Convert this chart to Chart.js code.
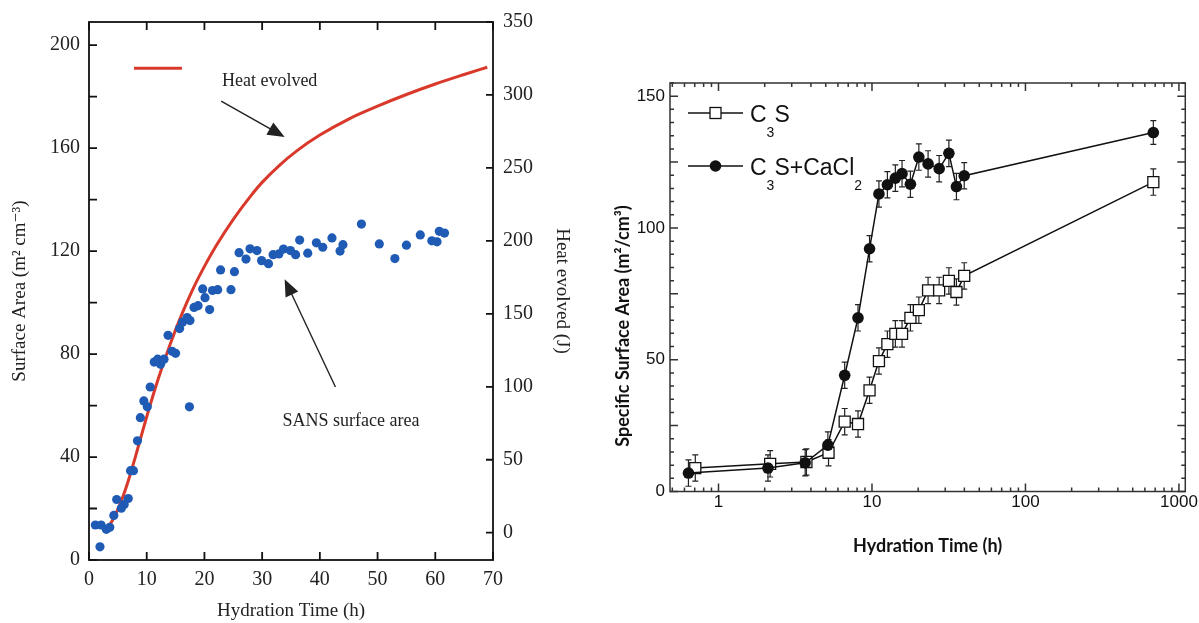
<!DOCTYPE html>
<html>
<head>
<meta charset="utf-8">
<script src="https://cdn.jsdelivr.net/npm/chart.js@4.4.1/dist/chart.umd.min.js"></script>
<style>
  body { margin: 0; background: #fff; }
  #left { position: absolute; left: 0; top: 0; }
  #right { position: absolute; left: 600px; top: 0; }
</style>
</head>
<body>
<canvas id="left" width="600" height="623"></canvas>
<canvas id="right" width="599" height="623"></canvas>
<script>
// ---- left panel: SANS surface area + heat evolved ----
const heatTime = [3, 4, 5, 6, 7, 8, 9, 10, 12, 14, 16, 18, 20, 22, 25, 28, 30, 33, 36, 40, 45, 50, 55, 60, 65, 69];
const heatJ = [2, 8, 16, 26, 38, 51.5, 65.5, 79.5, 105.5, 128.5, 148.9, 166.9, 182.5, 196.5, 214.8, 230.7, 240.1, 251.8, 261.7, 272.5, 283.5, 292.3, 300.3, 307.5, 314, 319];

const sansTime = [1.1, 1.9, 2.1, 3.0, 3.6, 4.3, 4.8, 5.6, 6.1, 6.8, 7.2, 7.7, 8.4, 8.9, 9.5, 10.1, 10.6, 11.3, 11.9, 12.4, 13.0,
  13.7, 14.4, 15.0, 15.7, 16.2, 17.0, 17.4, 17.5, 18.2, 18.9, 19.7, 20.1, 20.9, 21.4, 22.3, 22.8, 24.6, 25.2, 26.0,
  27.2, 27.9, 29.1, 29.9, 31.1, 31.9, 32.9, 33.7, 34.9, 35.8, 36.5, 37.9, 39.4, 40.5, 42.1, 43.5, 44.0, 47.2, 50.3,
  53.0, 55.0, 57.4, 59.4, 60.3, 60.7, 61.6];
const sansArea = [13.6, 5.1, 13.6, 11.9, 12.7, 17.3, 23.5, 20.1, 21.6, 23.9, 34.7, 34.7, 46.3, 55.3, 61.8, 59.5, 67.2, 76.9, 78.0, 76.0, 78.0,
  87.3, 81.1, 80.3, 89.9, 92.4, 94.2, 59.5, 93.0, 98.1, 98.8, 105.3, 101.9, 97.3, 104.7, 105.0, 112.7, 105.0, 112.0, 119.4,
  116.9, 120.9, 120.2, 116.3, 115.1, 118.6, 118.9, 120.8, 120.2, 118.6, 124.3, 119.2, 123.2, 121.5, 125.1, 120.0, 122.5, 130.5, 122.8,
  117.1, 122.3, 126.3, 124.0, 123.6, 127.7, 127.0];

const leftXTicks = [0, 10, 20, 30, 40, 50, 60, 70];
const leftYTicks = [0, 40, 80, 120, 160, 200];
const heatTicks = [0, 50, 100, 150, 200, 250, 300, 350];

// ---- right panel: specific surface area vs hydration time (log) ----
const c3sTime = [0.706, 2.17, 3.74, 5.21, 6.64, 8.11, 9.64, 11.1, 12.6, 14.2, 15.7, 17.8, 20.2, 23.2, 27.4, 31.7, 35.5, 39.9, 681];
const c3sArea = [8.9, 10.5, 11.2, 14.7, 26.5, 25.6, 38.4, 49.5, 55.9, 59.8, 59.8, 65.9, 68.8, 76.3, 76.3, 79.9, 75.7, 81.8, 117.4];
const c3sErr = [5, 5, 5, 5, 5, 5, 5, 5, 5, 5, 5, 5, 5, 5, 5, 5, 5, 5, 5];
const caclTime = [0.637, 2.10, 3.67, 5.16, 6.64, 8.11, 9.64, 11.1, 12.6, 14.2, 15.7, 17.8, 20.2, 23.2, 27.4, 31.7, 35.5, 39.9, 681];
const caclArea = [7.0, 8.9, 10.9, 17.6, 44.1, 65.9, 92.1, 112.9, 116.4, 118.9, 120.6, 116.6, 126.9, 124.3, 122.5, 128.3, 115.7, 119.8, 136.2];
const caclErr = [5, 5, 5, 5, 5, 5, 5, 5, 5, 5, 5, 5, 5, 5, 5, 5, 5, 5, 4.5];

const rightXTicks = [1, 10, 100, 1000];
const rightYTicks = [0, 50, 100, 150];

const serif = '"Liberation Serif", "DejaVu Serif", serif';
const sans = '"Liberation Sans", Arial, sans-serif';

function points(xs, ys) {
  return xs.map((x, i) => ({ x: x, y: ys[i] }));
}
function useTicks(list) {
  return function (scale) { scale.ticks = list.map(v => ({ value: v })); };
}

function arrow(ctx, x0, y0, x1, y1) {
  const ang = Math.atan2(y1 - y0, x1 - x0);
  const len = 17, half = 7;
  ctx.beginPath();
  ctx.moveTo(x0, y0);
  ctx.lineTo(x1 - len * 0.7 * Math.cos(ang), y1 - len * 0.7 * Math.sin(ang));
  ctx.stroke();
  ctx.beginPath();
  ctx.moveTo(x1, y1);
  ctx.lineTo(x1 - len * Math.cos(ang) + half * Math.sin(ang), y1 - len * Math.sin(ang) - half * Math.cos(ang));
  ctx.lineTo(x1 - len * Math.cos(ang) - half * Math.sin(ang), y1 - len * Math.sin(ang) + half * Math.cos(ang));
  ctx.closePath();
  ctx.fill();
}

const leftDecor = {
  id: 'leftDecor',
  afterDatasetsDraw(chart) {
    const { ctx, chartArea: a, scales: { x, y, y1 } } = chart;
    ctx.save();
    ctx.strokeStyle = '#111';
    ctx.lineWidth = 1.8;
    ctx.strokeRect(a.left, a.top, a.right - a.left, a.bottom - a.top);
    ctx.beginPath();
    leftXTicks.forEach(v => {
      const p = x.getPixelForValue(v);
      ctx.moveTo(p, a.bottom); ctx.lineTo(p, a.bottom - 8);
      ctx.moveTo(p, a.top); ctx.lineTo(p, a.top + 8);
    });
    for (let v = 0; v <= 200; v += 20) {
      const p = y.getPixelForValue(v);
      ctx.moveTo(a.left, p); ctx.lineTo(a.left + 8, p);
    }
    heatTicks.forEach(v => {
      const p = y1.getPixelForValue(v);
      ctx.moveTo(a.right, p); ctx.lineTo(a.right - 7, p);
    });
    ctx.stroke();

    // legend swatch for the heat curve
    ctx.strokeStyle = '#d9392a';
    ctx.lineWidth = 3;
    ctx.beginPath();
    ctx.moveTo(x.getPixelForValue(7.8), y.getPixelForValue(191));
    ctx.lineTo(x.getPixelForValue(16.1), y.getPixelForValue(191));
    ctx.stroke();

    // labels and arrows
    ctx.fillStyle = '#222';
    ctx.strokeStyle = '#222';
    ctx.lineWidth = 1.4;
    ctx.font = '18px ' + serif;
    ctx.textAlign = 'center';
    ctx.textBaseline = 'middle';
    ctx.fillText('Heat evolved', x.getPixelForValue(31.3), y.getPixelForValue(186));
    ctx.fillText('SANS surface area', x.getPixelForValue(45.4), y.getPixelForValue(54));
    arrow(ctx, x.getPixelForValue(22.9), y.getPixelForValue(178.3), x.getPixelForValue(33.9), y.getPixelForValue(164.3));
    arrow(ctx, x.getPixelForValue(42.7), y.getPixelForValue(67.2), x.getPixelForValue(33.9), y.getPixelForValue(109.1));
    ctx.restore();
  }
};

new Chart(document.getElementById('left'), {
  type: 'scatter',
  data: {
    datasets: [
      {
        label: 'SANS surface area',
        data: points(sansTime, sansArea),
        yAxisID: 'y',
        backgroundColor: '#1f5bb5',
        borderColor: '#1f5bb5',
        pointRadius: 4.6,
        pointBorderWidth: 0,
        order: 1
      },
      {
        label: 'Heat evolved',
        data: points(heatTime, heatJ),
        yAxisID: 'y1',
        showLine: true,
        borderColor: '#d9392a',
        borderWidth: 3,
        pointRadius: 0,
        cubicInterpolationMode: 'monotone',
        order: 2
      }
    ]
  },
  options: {
    responsive: false,
    animation: false,
    devicePixelRatio: 1,
    layout: { padding: { top: 22, left: 0, right: 0, bottom: 0 } },
    plugins: { legend: { display: false }, tooltip: { enabled: false } },
    scales: {
      x: {
        type: 'linear', min: 0, max: 70,
        grid: { display: false, drawTicks: false },
        border: { display: false },
        afterBuildTicks: useTicks(leftXTicks),
        afterFit: s => { s.height = 63; },
        ticks: { padding: 8, color: '#222', font: { family: serif, size: 20 }, maxRotation: 0, autoSkip: false },
        title: { display: true, text: 'Hydration Time (h)', color: '#222', font: { family: serif, size: 19 }, padding: { top: 0, bottom: 1 } }
      },
      y: {
        position: 'left', min: 0, max: 209,
        grid: { display: false, drawTicks: false },
        border: { display: false },
        afterBuildTicks: useTicks(leftYTicks),
        afterFit: s => { s.width = 89; },
        ticks: { padding: 9, color: '#222', font: { family: serif, size: 20 } },
        title: { display: true, text: 'Surface Area (m² cm⁻³)', color: '#222', font: { family: serif, size: 19 }, padding: { top: 9, bottom: 0 } }
      },
      y1: {
        position: 'right', min: -18.7, max: 350,
        grid: { display: false, drawTicks: false },
        border: { display: false },
        afterBuildTicks: useTicks(heatTicks),
        afterFit: s => { s.width = 107; },
        ticks: { padding: 10, color: '#222', font: { family: serif, size: 20 } },
        title: { display: true, text: 'Heat evolved (J)', color: '#222', font: { family: serif, size: 19 }, padding: { top: 27, bottom: 0 } }
      }
    }
  },
  plugins: [leftDecor]
});

// ---- right panel ----
const errorBars = {
  id: 'errorBars',
  beforeDatasetsDraw(chart) {
    const { ctx, scales: { y } } = chart;
    ctx.save();
    ctx.strokeStyle = '#222';
    ctx.lineWidth = 1.2;
    chart.data.datasets.forEach((ds, di) => {
      const meta = chart.getDatasetMeta(di);
      meta.data.forEach((pt, i) => {
        const v = ds.data[i].y, e = ds.errors[i];
        const top = y.getPixelForValue(v + e), bot = y.getPixelForValue(v - e);
        ctx.beginPath();
        ctx.moveTo(pt.x, top); ctx.lineTo(pt.x, bot);
        ctx.moveTo(pt.x - 3, top); ctx.lineTo(pt.x + 3, top);
        ctx.moveTo(pt.x - 3, bot); ctx.lineTo(pt.x + 3, bot);
        ctx.stroke();
      });
    });
    ctx.restore();
  }
};

function subText(ctx, parts, x, y) {
  parts.forEach(([txt, sub]) => {
    ctx.font = (sub ? '14px ' : '23px ') + sans;
    ctx.fillText(txt, x, sub ? y + 15 : y);
    x += ctx.measureText(txt).width;
  });
}

const rightDecor = {
  id: 'rightDecor',
  afterDatasetsDraw(chart) {
    const { ctx, chartArea: a, scales: { x, y } } = chart;
    ctx.save();
    ctx.strokeStyle = '#333';
    ctx.lineWidth = 1.5;
    ctx.strokeRect(a.left, a.top, a.right - a.left, a.bottom - a.top);
    ctx.beginPath();
    for (let dec = 0.1; dec <= 1000; dec *= 10) {
      for (let k = 1; k <= 9; k++) {
        const v = dec * k;
        if (v < x.min || v > x.max) continue;
        const p = x.getPixelForValue(v);
        const len = k === 1 ? 8 : 4;
        ctx.moveTo(p, a.bottom); ctx.lineTo(p, a.bottom - len);
        ctx.moveTo(p, a.top); ctx.lineTo(p, a.top + len);
      }
    }
    for (let v = 0; v <= 155; v += 5) {
      const p = y.getPixelForValue(v);
      const len = v % 25 === 0 ? 8 : 4;
      ctx.moveTo(a.left, p); ctx.lineTo(a.left + len, p);
      ctx.moveTo(a.right, p); ctx.lineTo(a.right - len, p);
    }
    ctx.stroke();

    // y axis title
    ctx.fillStyle = '#111';
    ctx.font = 'bold 18px Lato, ' + sans;
    ctx.textAlign = 'center';
    ctx.textBaseline = 'middle';
    ctx.translate(23, 326);
    ctx.rotate(-Math.PI / 2);
    ctx.fillText('Specific Surface Area (m²/cm³)', 0, 0);
    ctx.setTransform(1, 0, 0, 1, 0, 0);

    // legend
    const rows = [
      { y: 113, style: 'rect', parts: [['C', 0], ['3', 1], ['S', 0]] },
      { y: 166, style: 'circle', parts: [['C', 0], ['3', 1], ['S+CaCl', 0], ['2', 1]] }
    ];
    rows.forEach(r => {
      ctx.strokeStyle = '#111';
      ctx.lineWidth = 1.5;
      ctx.beginPath();
      ctx.moveTo(88, r.y); ctx.lineTo(143, r.y);
      ctx.stroke();
      if (r.style === 'rect') {
        ctx.fillStyle = '#fff';
        ctx.fillRect(110, r.y - 5.5, 11, 11);
        ctx.lineWidth = 1.3;
        ctx.strokeRect(110, r.y - 5.5, 11, 11);
      } else {
        ctx.fillStyle = '#111';
        ctx.beginPath();
        ctx.arc(115.5, r.y, 5.8, 0, Math.PI * 2);
        ctx.fill();
      }
      ctx.fillStyle = '#111';
      ctx.textAlign = 'left';
      ctx.textBaseline = 'alphabetic';
      subText(ctx, r.parts, 150, r.y + 9);
    });
    ctx.restore();
  }
};

new Chart(document.getElementById('right'), {
  type: 'scatter',
  data: {
    datasets: [
      {
        label: 'C3S+CaCl2',
        data: points(caclTime, caclArea),
        errors: caclErr,
        showLine: true,
        borderColor: '#111',
        borderWidth: 1.5,
        pointStyle: 'circle',
        pointRadius: 5.8,
        pointBackgroundColor: '#111',
        pointBorderColor: '#111',
        pointBorderWidth: 0
      },
      {
        label: 'C3S',
        data: points(c3sTime, c3sArea),
        errors: c3sErr,
        showLine: true,
        borderColor: '#111',
        borderWidth: 1.5,
        pointStyle: 'rect',
        pointRadius: 7.8,
        pointBackgroundColor: '#fff',
        pointBorderColor: '#111',
        pointBorderWidth: 1.3
      }
    ]
  },
  options: {
    responsive: false,
    animation: false,
    devicePixelRatio: 1,
    layout: { padding: { top: 83, right: 13, bottom: 62, left: 0 } },
    plugins: { legend: { display: false }, tooltip: { enabled: false } },
    scales: {
      x: {
        type: 'logarithmic', min: 0.483, max: 1100,
        grid: { display: false, drawTicks: false },
        border: { display: false },
        afterBuildTicks: useTicks(rightXTicks),
        afterFit: s => { s.height = 69.5; },
        ticks: { padding: 1, color: '#111', font: { family: sans, size: 17 }, maxRotation: 0, autoSkip: false, callback: v => String(v) },
        title: { display: true, text: 'Hydration Time (h)', color: '#111', font: { family: 'Lato, ' + sans, size: 18, weight: 'bold' }, padding: { top: 0, bottom: 4 } }
      },
      y: {
        min: 0, max: 155,
        grid: { display: false, drawTicks: false },
        border: { display: false },
        afterBuildTicks: useTicks(rightYTicks),
        afterFit: s => { s.width = 70; },
        ticks: { padding: 5, color: '#111', font: { family: sans, size: 17 } }
      }
    }
  },
  plugins: [errorBars, rightDecor]
});
</script>
</body>
</html>
